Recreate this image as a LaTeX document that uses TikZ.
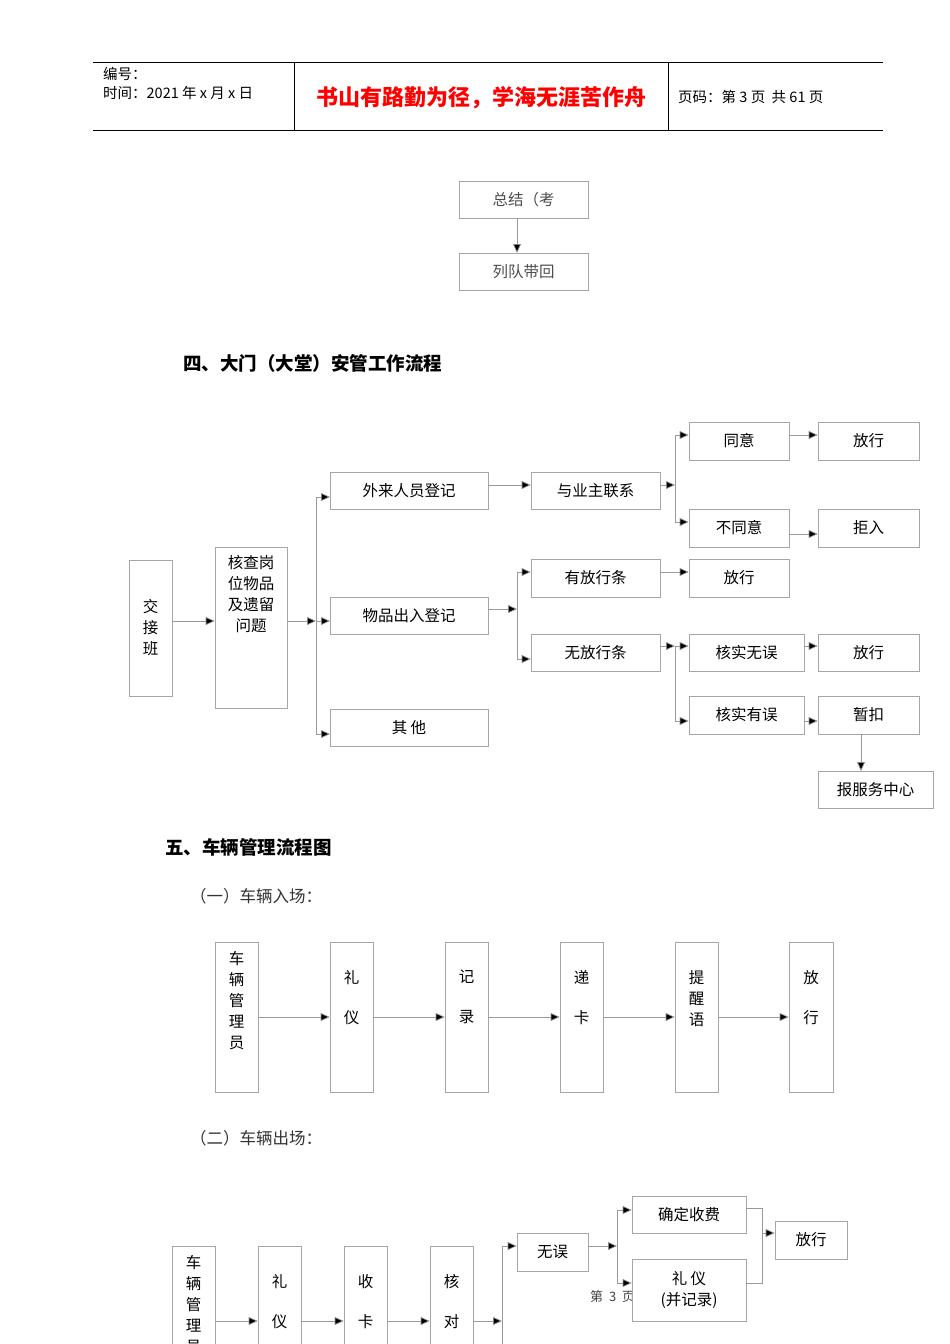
\documentclass[tikz,border=0pt]{standalone}
\usepackage{fontspec}
\setmainfont{Noto Sans CJK SC}
\usetikzlibrary{arrows.meta}
\begin{document}
\begin{tikzpicture}[x=1pt,y=-1pt,
  bx/.style={draw=black!35,line width=0.6pt,inner sep=0pt,font=\fontsize{15.5}{18}\selectfont},
  ln/.style={draw=black!40,line width=0.7pt},
  ar/.style={ln,-{Triangle[length=9pt,width=8pt,fill=black]}},
  txt/.style={font=\fontsize{15.5}{18}\selectfont,inner sep=0pt}]
\useasboundingbox (0,0) rectangle (950,1344);
\newcommand\B[6]{\node[bx,minimum width=#4-#2,minimum height=#5-#3] (#1) at ({(#2+#4)/2},{(#3+#5)/2}) {#6};}
% header
\draw[black,line width=0.6pt] (93,62)--(883,62) (93,130)--(883,130) (294,62)--(294,130) (668,62)--(668,130);
\node[anchor=west,inner sep=0pt,font=\fontsize{14.5}{16}\selectfont] (h1) at (103,74) {编号：};
\node[anchor=west,inner sep=0pt,font=\fontsize{14.5}{16}\selectfont] (h2) at (103,93) {时间：2021 年 x 月 x 日};
\node[inner sep=0pt,text=red,font=\fontsize{22}{24}\selectfont\bfseries] (h3) at (481,98) {书山有路勤为径，学海无涯苦作舟};
\node[anchor=west,inner sep=0pt,font=\fontsize{14.5}{16}\selectfont] (h4) at (678,97) {页码：第 3 页\ \ 共 61 页};
% top
\B{z1}{459}{181}{588}{218}{\textcolor{black!70}{总结（考}}
\B{z2}{459}{253}{588}{290}{\textcolor{black!70}{列队带回}}
\draw[ar] (517,218)--(517,253);
\node[anchor=west,inner sep=0pt,font=\fontsize{18.5}{20}\selectfont\bfseries] (t4) at (183,363) {四、大门（大堂）安管工作流程};
% flow
\B{a}{129}{560}{172}{696}{}
\node[txt,align=center,font=\fontsize{15.5}{21}\selectfont] at (a) {交\\接\\班};
\B{b}{215}{547}{287}{708}{}
\node[txt,align=center,anchor=north,font=\fontsize{15.5}{21}\selectfont] at (251,555) {核查岗\\位物品\\及遗留\\问题};
\B{c1}{330}{472}{488}{509}{外来人员登记}
\B{c2}{330}{597}{488}{634}{物品出入登记}
\B{c3}{330}{709}{488}{746}{其\ 他}
\B{d1}{531}{472}{660}{509}{与业主联系}
\B{d2}{531}{559}{660}{597}{有放行条}
\B{d3}{531}{634}{660}{671}{无放行条}
\B{e1}{689}{422}{789}{460}{同意}
\B{f1}{818}{422}{919}{460}{放行}
\B{e2}{689}{509}{789}{547}{不同意}
\B{f2}{818}{509}{919}{547}{拒入}
\B{e3}{689}{559}{789}{597}{放行}
\B{e4}{689}{634}{804}{671}{核实无误}
\B{f4}{818}{634}{919}{671}{放行}
\B{e5}{689}{696}{804}{734}{核实有误}
\B{f5}{818}{696}{919}{734}{暂扣}
\B{g}{818}{771}{933}{808}{报服务中心}
\coordinate (p1) at (316,621);
\draw[ar] (a.east|-p1)--(b.west|-p1);
\draw[ar] (b.east|-p1)--(p1);
\draw[ln] (316,497)--(316,734);
\draw[ar] (316,497)--(330,497);
\draw[ar] (316,621)--(330,621);
\draw[ar] (316,734)--(330,734);
\draw[ar] (c1.east|-0,485)--(d1.west|-0,485);
\coordinate (p2) at (517,609);
\draw[ar] (c2.east|-p2)--(p2);
\draw[ln] (517,572)--(517,659);
\draw[ar] (517,572)--(d2.west|-0,572);
\draw[ar] (517,659)--(d3.west|-0,659);
\coordinate (p3) at (675,485);
\draw[ar] (d1.east|-p3)--(p3);
\draw[ln] (675,435)--(675,522);
\draw[ar] (675,435)--(e1.west|-0,435);
\draw[ar] (675,522)--(e2.west|-0,522);
\draw[ar] (e1.east|-0,435)--(f1.west|-0,435);
\draw[ar] (e2.east|-0,534)--(f2.west|-0,534);
\draw[ar] (d2.east|-0,572)--(e3.west|-0,572);
\coordinate (p4) at (675,646);
\draw[ar] (d3.east|-p4)--(p4);
\draw[ln] (675,646)--(675,721);
\draw[ar] (675,646)--(e4.west|-0,646);
\draw[ar] (675,721)--(e5.west|-0,721);
\draw[ar] (e4.east|-0,646)--(f4.west|-0,646);
\draw[ar] (e5.east|-0,721)--(f5.west|-0,721);
\draw[ar] (861,734)--(861,771);
% section 5
\node[anchor=west,inner sep=0pt,font=\fontsize{18.5}{20}\selectfont\bfseries] (t5) at (165,847) {五、车辆管理流程图};
\node[anchor=west,inner sep=0pt,font=\fontsize{16.5}{18}\selectfont,text=black!80] (t51) at (190,896) {（一）车辆入场：};
\B{r1}{215}{942}{258}{1092}{}
\B{r2}{330}{942}{373}{1092}{}
\B{r3}{445}{942}{488}{1092}{}
\B{r4}{560}{942}{603}{1092}{}
\B{r5}{675}{942}{718}{1092}{}
\B{r6}{789}{942}{833}{1092}{}
\node[txt,align=center,anchor=north,font=\fontsize{15.5}{21}\selectfont] at (r1|-0,951) {车\\辆\\管\\理\\员};
\node[txt,align=center,anchor=north,font=\fontsize{15.5}{40}\selectfont] at (r2|-0,970) {礼\\仪};
\node[txt,align=center,anchor=north,font=\fontsize{15.5}{40}\selectfont] at (r3|-0,970) {记\\录};
\node[txt,align=center,anchor=north,font=\fontsize{15.5}{40}\selectfont] at (r4|-0,970) {递\\卡};
\node[txt,align=center,anchor=north,font=\fontsize{15.5}{21}\selectfont] at (r5|-0,970) {提\\醒\\语};
\node[txt,align=center,anchor=north,font=\fontsize{15.5}{40}\selectfont] at (r6|-0,970) {放\\行};
\foreach \u/\v in {r1/r2,r2/r3,r3/r4,r4/r5,r5/r6} \draw[ar] (\u.east|-0,1017)--(\v.west|-0,1017);
\node[anchor=west,inner sep=0pt,font=\fontsize{16.5}{18}\selectfont,text=black!80] (t52) at (190,1138) {（二）车辆出场：};
\B{s1}{172}{1246}{215}{1360}{}
\B{s2}{258}{1246}{301}{1360}{}
\B{s3}{344}{1246}{387}{1360}{}
\B{s4}{430}{1246}{473}{1360}{}
\node[txt,align=center,anchor=north,font=\fontsize{15.5}{21}\selectfont] at (s1|-0,1255) {车\\辆\\管\\理\\员};
\node[txt,align=center,anchor=north,font=\fontsize{15.5}{40}\selectfont] at (s2|-0,1274) {礼\\仪};
\node[txt,align=center,anchor=north,font=\fontsize{15.5}{40}\selectfont] at (s3|-0,1274) {收\\卡};
\node[txt,align=center,anchor=north,font=\fontsize{15.5}{40}\selectfont] at (s4|-0,1274) {核\\对};
\foreach \u/\v in {s1/s2,s2/s3,s3/s4} \draw[ar] (\u.east|-0,1321)--(\v.west|-0,1321);
\coordinate (q1) at (502,1321);
\draw[ar] (s4.east|-q1)--(q1);
\draw[ln] (502,1246)--(502,1344);
\B{w}{517}{1233}{588}{1271}{无误}
\draw[ar] (502,1246)--(w.west|-0,1246);
\coordinate (q2) at (617,1246);
\draw[ar] (w.east|-q2)--(q2);
\draw[ln] (617,1210)--(617,1283);
\node[anchor=west,inner sep=0pt,font=\fontsize{13}{14}\selectfont,text=black!75] (ft) at (590,1297) {第\ \ 3\ \ 页};
\node[bx,fill=white,minimum width=114,minimum height=62,align=center,font=\fontsize{15.5}{21}\selectfont] (k2) at (689,1290) {礼\ 仪\\(并记录)};
\B{k1}{632}{1196}{746}{1233}{确定收费}
\draw[ar] (617,1210)--(k1.west|-0,1210);
\draw[ar] (617,1283)--(k2.west|-0,1283);
\B{fx}{775}{1221}{847}{1259}{放行}
\draw[ln] (k1.east|-0,1208)--(762,1208)--(762,1283)--(k2.east|-0,1283);
\draw[ar] (762,1233)--(fx.west|-0,1233);
\end{tikzpicture}
\end{document}
